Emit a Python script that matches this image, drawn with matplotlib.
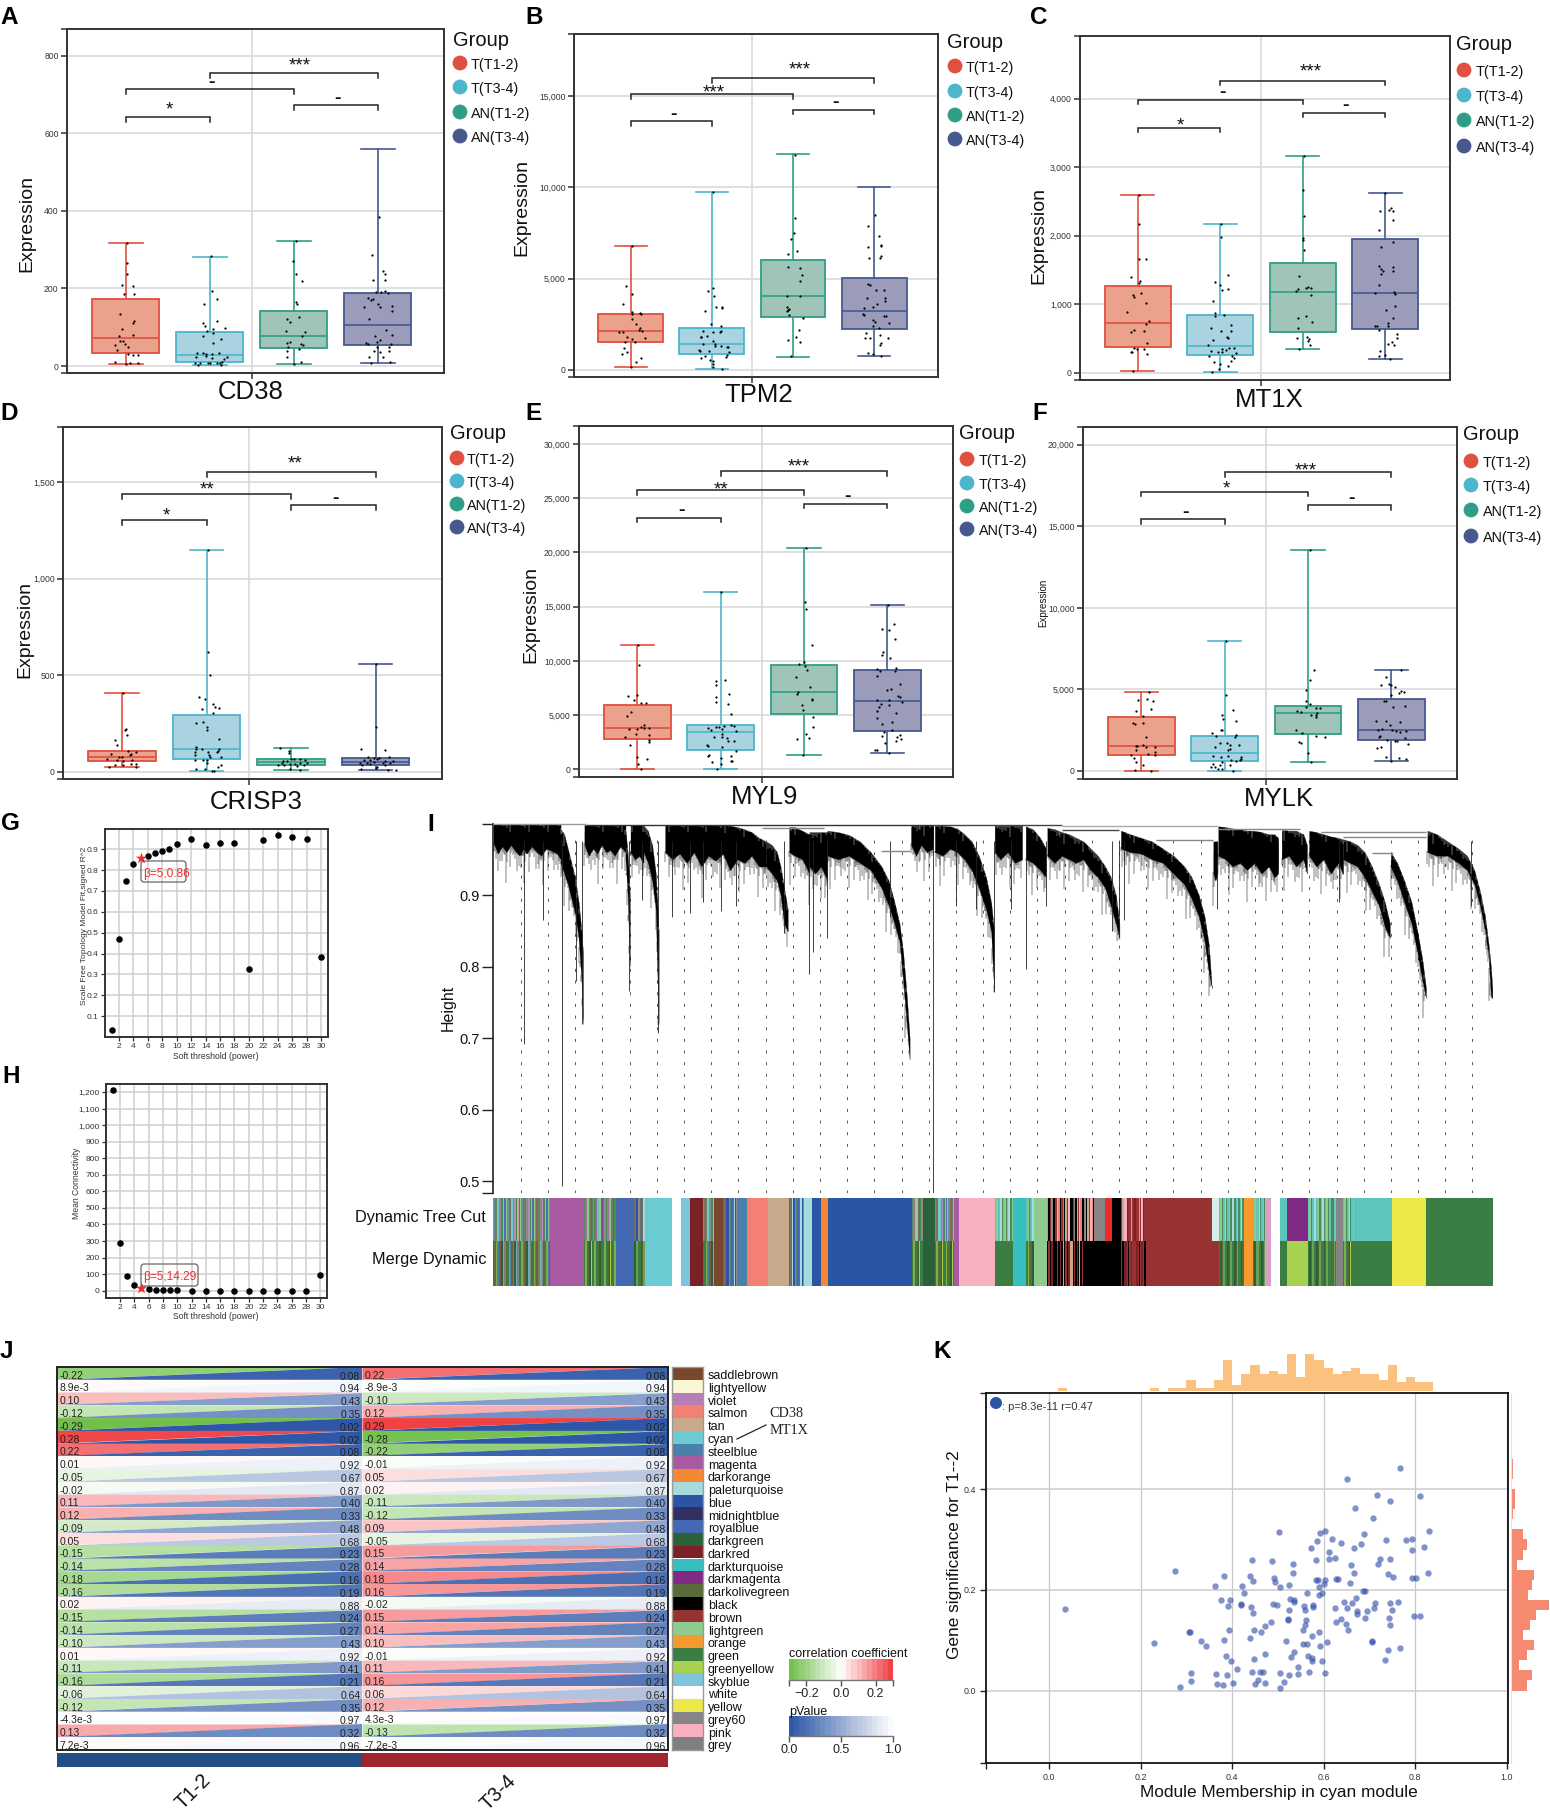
import numpy as np
import matplotlib
matplotlib.use('Agg')
import matplotlib.pyplot as plt
from matplotlib.colors import LinearSegmentedColormap, Normalize
from matplotlib.patches import Polygon, FancyBboxPatch, Circle
from matplotlib.ticker import FuncFormatter

plt.rcParams['font.family'] = ['Liberation Sans', 'DejaVu Sans']
W, H = 1550, 1810

# ---------------- box plot data (low, q1, median, q3, high) ----------------
groups = ['T(T1-2)', 'T(T3-4)', 'AN(T1-2)', 'AN(T3-4)']
A_q = [[4, 34, 71.5, 173, 316], [3, 10, 28, 88, 282], [5, 46, 77, 142, 322], [8, 53, 107, 189, 560]]
B_q = [[165, 1520, 2140, 3070, 6800], [37, 860, 1410, 2320, 9780], [710, 2900, 4060, 6010, 11850], [770, 2230, 3250, 5045, 10050]]
C_q = [[19, 379, 729, 1269, 2600], [10, 263, 389, 836, 2168], [350, 588, 1181, 1600, 3160], [204, 642, 1167, 1945, 2630]]
D_q = [[22, 54, 74, 107, 408], [3, 66, 116, 292, 1150], [9, 33, 48, 64, 121], [9, 33, 50, 69, 557]]
E_q = [[60, 2770, 3815, 5908, 11480], [30, 1755, 3450, 4060, 16310], [1290, 5110, 7110, 9630, 20400], [1510, 3570, 6340, 9170, 15140]]
F_q = [[20, 1002, 1513, 3292, 4847], [20, 593, 1104, 2168, 7955], [532, 2249, 3579, 4008, 13558], [593, 1881, 2515, 4397, 6196]]

# brackets: pairs (1-2, 1-3, 2-4, 3-4) at these values
pairs = [(1, 2), (1, 3), (2, 4), (3, 4)]
A_brk = [641, 714, 755, 673]
B_brk = [13640, 15120, 15980, 14260]
C_brk = [3578, 3986, 4259, 3797]
D_brk = [1303, 1438, 1552, 1381]
E_brk = [23200, 25720, 27480, 24490]
F_brk = [15440, 17117, 18303, 16299]
A_sig = ['*', '-', '***', '-']
B_sig = ['-', '***', '***', '-']
C_sig = ['*', '-', '***', '-']
D_sig = ['*', '**', '**', '-']
E_sig = ['-', '**', '***', '-']
F_sig = ['-', '*', '***', '-']

# jittered samples: (offset from box centre, value)
A_pts = [
 [(.01,317),(.02,266),(.01,237),(-.05,208),(.09,207),(-.02,186),(.1,185),(-.07,134),(.1,115),(.09,111),(-.04,95),(.08,81),(-.08,78),(-.07,65),(-.03,65),(-.01,56),(-.13,54),(.03,48),(-.1,41),(.03,32),(.09,28),(.15,28),(-.13,11),(0,4),(.05,7),(.15,7)],
 [(.01,283),(.02,194),(.08,174),(-.07,161),(.09,115),(-.08,112),(-.06,103),(.04,95),(.18,98),(-.03,90),(.04,84),(-.08,78),(.13,70),(.04,60),(-.15,33),(-.08,34),(-.04,32),(.03,31),(.11,33),(-.16,23),(-.04,26),(.02,21),(.2,23),(.17,18),(-.18,8),(-.12,7),(-.02,9),(0,7),(.08,9),(.12,9),(.15,11),(-.14,3),(.13,3)],
 [(.02,322),(-.01,270),(.03,236),(.1,220),(.02,165),(.04,159),(.06,126),(-.08,121),(-.05,113),(-.09,91),(.13,87),(.1,77),(-.05,61),(-.08,59),(.09,56),(.11,54),(-.07,48),(.06,43),(-.08,39),(-.08,23),(.09,11),(0,5)],
 [(.01,384),(-.07,285),(.06,245),(.09,237),(-.06,222),(.08,221),(-.02,191),(.04,191),(.09,193),(.12,189),(-.12,176),(-.06,174),(-.08,171),(0,160),(.03,152),(.17,155),(-.16,151),(.17,142),(-.11,120),(.1,93),(-.03,78),(.17,79),(.03,68),(-.01,61),(-.14,59),(-.12,57),(.16,56),(-.01,49),(.13,49),(-.05,40),(.03,36),(.13,40),(.06,24),(-.11,22),(-.08,9),(.14,11)],
]
B_pts = [
 [(.01,6800),(-.06,4620),(.02,4170),(-.1,3590),(.01,3160),(.02,3080),(.11,3110),(.12,3060),(.02,2800),(.06,2520),(.11,2310),(.1,2200),(.14,2160),(-.14,2090),(-.1,2100),(-.05,1820),(.02,1700),(.17,1750),(-.07,1520),(.05,1520),(-.08,1180),(-.05,1000),(-.11,850),(.13,660),(.07,430),(0,170)],
 [(.01,9780),(.01,4500),(-.05,4350),(.02,4050),(.05,3460),(.12,3470),(.13,3370),(-.09,3250),(-.01,2510),(.11,2400),(-.11,2120),(.11,2120),(.1,2060),(.01,2060),(-.13,1830),(-.06,1840),(-.14,1810),(.01,1600),(.04,1450),(-.11,1400),(.04,1340),(.11,1300),(.19,1280),(.2,1250),(-.16,1080),(-.15,1020),(-.04,1050),(.21,1000),(.18,830),(-.08,790),(.17,730),(-.13,640),(-.02,540),(.01,470),(.01,330),(.01,160),(.12,40)],
 [(.02,11800),(.02,8350),(.01,7520),(-.02,7160),(.05,6520),(-.06,6330),(-.06,5640),(.09,5570),(.11,5220),(.09,4890),(-.08,4080),(.09,4060),(-.07,3470),(-.08,3250),(-.05,3350),(-.06,3300),(-.05,3000),(.12,2850),(.07,2180),(.04,1800),(-.06,1630),(.09,1530),(-.02,740)],
 [(.01,8470),(-.07,7900),(.06,7340),(-.07,6740),(.08,6830),(.09,6780),(-.06,6140),(.07,6130),(.08,6220),(-.07,4710),(-.05,4650),(.02,4400),(.12,4380),(-.09,3960),(.13,3940),(.13,3760),(.03,3590),(-.01,3440),(-.12,3390),(-.14,3060),(-.13,3030),(.12,2980),(.14,2950),(-.02,2740),(.01,2640),(.18,2550),(-.01,2390),(.06,2300),(-.1,2040),(.07,1920),(-.11,1780),(-.05,1780),(.17,1730),(.09,1480),(.07,1360),(-.07,920),(-.02,900),(.08,790)],
]
C_pts = [
 [(.01,2600),(.01,2173),(.01,1658),(.1,1658),(-.08,1395),(.03,1337),(.02,1303),(.04,1162),(-.06,1133),(-.04,1104),(.1,1021),(-.13,885),(.14,749),(.1,705),(-.05,617),(-.08,593),(.08,613),(.11,438),(-.04,360),(-.01,350),(.08,345),(-.08,306),(-.07,297),(.11,277),(-.06,19)],
 [(.01,2168),(.01,1983),(.09,1429),(-.06,1327),(0,1283),(.09,1225),(.02,1210),(-.09,1045),(-.06,875),(-.06,826),(.05,841),(.13,700),(-.11,647),(.01,608),(.13,608),(.08,525),(.1,506),(-.09,472),(-.15,408),(.17,365),(.11,355),(.02,345),(.07,326),(-.11,316),(-.03,301),(.02,301),(.19,292),(.14,248),(-.13,243),(.17,209),(.13,170),(-.08,151),(0,126),(.1,92),(-.01,58),(-.1,10)],
 [(.02,3160),(.01,2664),(.02,2280),(.01,1969),(.01,1935),(.02,1794),(-.05,1405),(.06,1249),(.04,1240),(.1,1240),(-.06,1220),(-.08,1186),(.1,1133),(.04,826),(-.06,797),(.11,734),(-.06,651),(-.07,506),(.05,520),(.08,491),(.07,462),(.09,399),(-.05,350)],
 [(0,2630),(.07,2411),(.05,2372),(.09,2363),(-.06,2358),(.09,2227),(-.08,2081),(.1,1906),(-.05,1833),(-.08,1551),(.09,1536),(-.05,1512),(-.02,1488),(.09,1488),(-.05,1434),(-.07,1283),(-.12,1162),(.11,1172),(.12,1142),(.12,972),(.01,914),(.1,792),(.04,720),(.03,681),(-.12,681),(-.1,681),(-.07,627),(.15,569),(.14,510),(.08,442),(.04,413),(.11,399),(-.06,316),(0,258),(-.07,248),(.06,204)],
]
D_pts = [
 [(.01,407),(.04,223),(.03,218),(.06,189),(-.09,163),(-.06,138),(.07,107),(.17,100),(-.13,90),(.1,90),(.09,85),(-.04,76),(0,76),(-.18,64),(-.06,61),(.12,62),(.01,55),(-.08,36),(.01,35),(.1,40),(.17,40),(-.15,26),(.17,22)],
 [(.02,1149),(.02,623),(.04,502),(-.09,388),(-.02,375),(.07,349),(.1,334),(.15,330),(-.06,324),(.08,303),(-.13,254),(-.04,260),(0,230),(.01,216),(.15,170),(-.13,128),(-.12,116),(-.06,119),(.15,116),(.13,107),(.02,104),(-.14,102),(.12,102),(.03,87),(-.14,85),(.04,78),(.17,74),(-.14,61),(-.04,62),(0,59),(.01,47),(.17,35),(.13,24),(-.02,14),(-.13,12),(.06,3),(.09,3)],
 [(-.13,121),(-.02,107),(-.02,99),(0,66),(.04,66),(.11,64),(.17,61),(-.09,57),(-.05,54),(-.11,45),(.11,43),(.05,42),(.19,43),(-.15,36),(-.08,35),(-.01,38),(.15,33),(.07,28),(-.01,14),(.11,7)],
 [(.01,557),(0,234),(-.17,119),(.11,112),(-.09,76),(-.02,71),(.04,71),(.16,74),(-.14,61),(-.06,62),(.02,64),(.11,57),(.21,57),(-.18,43),(-.1,47),(-.02,48),(.09,43),(.17,43),(-.16,33),(-.06,40),(.11,33),(.02,26),(.01,17),(-.17,14),(.15,10),(.24,7)],
]
E_pts = [
 [(.01,11450),(.02,9600),(0,6860),(-.11,6800),(-.04,6430),(.04,6120),(.1,6120),(-.08,5290),(-.13,4890),(.08,4090),(.04,3880),(.08,3820),(.14,3820),(-.1,3750),(-.01,3690),(-.02,3260),(.14,3140),(-.15,2950),(.14,2680),(.14,2520),(-.09,2280),(-.01,1140),(.12,985),(.01,520),(.04,30)],
 [(0,16310),(-.06,8120),(.05,8220),(-.06,7780),(.1,6980),(-.06,6680),(-.06,6180),(.09,6000),(.12,5110),(.04,4030),(.12,4090),(-.06,3900),(-.02,3900),(.16,3970),(-.15,3780),(-.12,3660),(.02,3720),(.18,3510),(.02,3290),(-.08,2950),(.01,2950),(.07,2920),(.09,2650),(.16,2580),(-.16,2280),(-.15,2120),(.01,2030),(.18,1690),(-.14,1290),(-.15,1230),(.12,1200),(0,1080),(.12,770),(.13,770),(-.1,650),(0,520),(-.04,30)],
 [(.02,20400),(.01,15450),(.02,14740),(.09,11420),(0,9880),(-.06,9750),(.01,9510),(.04,9200),(-.1,8490),(.07,7630),(-.07,7110),(-.09,6950),(.1,6490),(.09,6430),(-.02,5970),(-.01,5480),(.11,4800),(.11,3880),(.02,3260),(-.08,2800),(.06,2890),(-.01,1290)],
 [(.01,15140),(.08,13420),(-.07,12980),(.02,12830),(.09,12000),(-.05,10800),(-.07,10580),(.03,10310),(.1,9320),(-.12,9260),(-.09,9080),(.09,9110),(-.12,8580),(.15,7850),(.04,7420),(-.01,7350),(.13,6770),(.15,6650),(-.12,6430),(.02,6430),(.18,6220),(-.08,6000),(.02,5940),(-.1,5780),(-.13,5420),(.1,5230),(-.12,4740),(.06,4370),(-.07,4150),(.06,3630),(-.04,3480),(-.06,3110),(.15,3200),(.11,3020),(.16,2800),(.1,2620),(-.03,2400),(-.15,1780),(-.12,1780),(.02,1510)],
]
F_pts = [
 [(.09,4830),(.07,4420),(.14,4290),(-.04,4340),(.12,3820),(-.06,3700),(.02,3370),(-.1,2940),(-.08,2900),(.02,2940),(.06,2070),(.02,1570),(-.06,1510),(-.05,1510),(.06,1470),(.16,1450),(-.06,1270),(.16,1170),(.08,1060),(.16,1000),(-.13,960),(-.09,820),(-.07,550),(.02,350),(-.08,40),(.11,0)],
 [(.02,7955),(.02,4680),(.1,3760),(-.03,3410),(-.02,3210),(.13,3050),(-.05,2520),(-.03,2520),(-.15,2310),(.14,2190),(-.1,2130),(.12,2090),(-.06,1720),(.03,1720),(.17,1620),(.06,1620),(-.12,1450),(.06,1350),(.04,1270),(-.14,920),(.04,920),(-.05,840),(.2,840),(.19,760),(.08,670),(.18,650),(.13,590),(-.03,570),(-.14,410),(-.06,350),(.06,390),(-.16,250),(-.12,250),(-.08,100),(-.03,100),(.1,0)],
 [(.02,13558),(.07,6200),(.02,5580),(-.02,4990),(-.02,4270),(.02,4090),(-.03,3930),(.09,3840),(.14,3840),(-.13,3700),(-.08,3600),(.11,3580),(.03,3410),(.1,3440),(.1,3290),(-.14,2520),(-.07,2330),(.09,2170),(.2,2090),(-.11,1800),(-.08,1720),(0,1100),(.03,530)],
 [(.11,6200),(-.06,5770),(-.12,5240),(-.03,5320),(0,5300),(.04,5150),(.11,4930),(.15,4850),(.09,4760),(0,4660),(-.09,4270),(-.06,4290),(.16,3970),(.02,3930),(-.19,3090),(-.07,3070),(.1,3030),(-.02,2840),(-.16,2540),(-.11,2560),(.01,2490),(.05,2450),(.1,2410),(.17,2450),(-.14,2170),(-.15,2090),(.16,2000),(-.05,1900),(.04,1820),(.07,1840),(.2,1660),(-.12,1470),(-.17,1410),(-.06,840),(.09,820),(.17,720),(-.01,590)],
]

# ---------------- soft threshold ----------------
power = [1,2,3,4,5,6,7,8,9,10,12,14,16,18,20,22,24,26,28,30]
fit_r2 = [.033,.468,.75,.83,.86,.866,.88,.892,.902,.926,.95,.92,.93,.932,.325,.943,.967,.957,.95,.385]
connectivity = [1210,290,90,33,14.29,8,5,3,2,1.5,1,.8,.5,.4,.3,.3,.2,.2,.2,95]

# ---------------- dendrogram: (leaf positions, upper edge, lower edge) ----------------
dendro_branches = [
 ([102,108,114,120,126,132,138,143,148,155,162,168,175,182,190,195],[.9992]*16,[.972,.958,.968,.960,.970,.962,.955,.964,.958,.968,.960,.955,.965,.962,.958,.950]),
 ([195,200,205,210,215,220,224,226],[.992,.985,.965,.945,.925,.89,.85,.82],[.945,.93,.915,.895,.875,.84,.78,.72]),
 ([228,234,240,246,252,258,264,270,278,285],[.998]*10,[.97,.955,.965,.958,.97,.96,.963,.955,.968,.96]),
 ([285,288,291],[.99,.96,.90],[.95,.90,.80]),
 ([292,298,304,310],[.998]*4,[.96,.95,.955,.945]),
 ([310,316,322,327,331],[.997,.99,.97,.93,.85],[.96,.945,.92,.88,.72]),
 ([340,350,360,370,380,390,400,410,420,430,440,450,460,470,480],[.998,.998,.998,.998,.998,.998,.998,.998,.998,.997,.995,.992,.988,.98,.975],[.96,.95,.958,.945,.96,.94,.955,.948,.958,.935,.95,.945,.955,.94,.94]),
 ([480,488,495,500,505,510],[.975,.97,.96,.94,.91,.88],[.94,.93,.92,.90,.86,.85]),
 ([512,520,530,540],[.995,.995,.99,.985],[.96,.955,.95,.93]),
 ([540,548,556,565],[.988]*4,[.94,.93,.94,.92]),
 ([565,580,595,610,625,640,650,658,665,670,675,679],[.99,.988,.984,.975,.96,.94,.92,.89,.86,.82,.76,.70],[.955,.95,.955,.945,.935,.91,.885,.86,.835,.78,.72,.67]),
 ([681,688,695,703,712],[.998]*5,[.97,.955,.97,.96,.965]),
 ([714,725,735,745,755,765,775,785,792,796],[.998,.997,.996,.993,.985,.975,.955,.925,.89,.85],[.96,.955,.965,.96,.95,.935,.91,.88,.85,.77]),
 ([797,805,815,825,835],[.997]*5,[.96,.95,.96,.945,.95]),
 ([840,850,860,868],[.996,.992,.98,.965],[.95,.945,.935,.925]),
 ([870,880,890,900,910,920,930,940,950,958,965,970],[.994,.992,.988,.985,.98,.975,.965,.955,.94,.925,.90,.86],[.955,.945,.955,.95,.945,.95,.935,.925,.91,.885,.86,.84]),
 ([972,985,1000,1015,1030,1045,1060,1070,1080,1088,1094,1098],[.99,.985,.98,.975,.965,.955,.94,.925,.90,.87,.83,.77],[.965,.96,.958,.95,.945,.93,.915,.895,.87,.835,.79,.772]),
 ([1100,1103,1106],[.975,.975,.975],[.93,.92,.93]),
 ([1107,1117,1127,1137,1147,1157,1167,1177,1185,1190],[.996,.995,.993,.992,.99,.99,.988,.985,.985,.98],[.955,.95,.94,.945,.935,.945,.93,.94,.925,.93]),
 ([1195,1205,1215,1225,1230],[.991,.99,.99,.985,.97],[.95,.955,.94,.95,.93]),
 ([1233,1243,1253,1263,1273,1280],[.99,.988,.985,.982,.98,.978],[.955,.94,.95,.93,.945,.93]),
 ([1280,1290,1300,1310,1320,1330,1338,1345],[.978,.975,.97,.96,.94,.915,.89,.86],[.95,.945,.94,.925,.905,.885,.855,.84]),
 ([1346,1355,1365,1375,1383,1390,1395],[.96,.945,.92,.89,.85,.81,.77],[.94,.92,.89,.86,.82,.78,.756]),
 ([1397,1410,1425,1440,1452,1462,1470,1477,1482,1485,1487],[.99,.985,.975,.965,.955,.935,.905,.87,.83,.80,.77],[.96,.955,.955,.945,.935,.915,.885,.85,.81,.76,.756]),
]
hair_lengths = [.004,.012,.002,.020,.007,.001,.030,.009,.003,.016,.006,.045,.002,.011,.005,.025,.001,.008,.014,.003]
spike_x = [144,197,170,217,225,290,308,330,349,374,392,417,438,505,540,545,565,652,712,743,771,796,820,840,868,960,970,977,1105,1190,1275,1458]
spike_low = [.692,.4935,.865,.78,.72,.766,.893,.708,.87,.875,.89,.878,.885,.847,.79,.82,.84,.87,.484,.885,.88,.765,.88,.797,.885,.85,.842,.865,.88,.935,.89,.885]
merge_lines = [(102,230,.9992,'#999999'),(230,712,.998,'#333333'),(712,890,.9975,'#444444'),(890,1107,.9965,'#aaaaaa'),(890,970,.991,'#444444'),
               (1107,1220,.9925,'#888888'),(1250,1395,.9885,'#888888'),(1280,1395,.981,'#888888'),(1020,1100,.9775,'#888888'),
               (640,680,.962,'#888888'),(1320,1350,.959,'#888888'),(475,560,.993,'#888888')]

# ---------------- module colours ----------------
modules = ['saddlebrown','lightyellow','violet','salmon','tan','cyan','steelblue','magenta','darkorange','paleturquoise','blue','midnightblue','royalblue','darkgreen','darkred','darkturquoise','darkmagenta','darkolivegreen','black','brown','lightgreen','orange','green','greenyellow','skyblue','white','yellow','grey60','pink','grey']
module_colors = ['#7B472C','#F8F6D3','#B77DB8','#F47F73','#C9A98B','#6BCBD3','#4A80A9','#A85AA3','#F58634','#A6DADB','#2A55A5','#322F62','#4269B2','#2B6138','#7C2027','#37BFBF','#802A84','#5A6B3A','#000000','#963232','#8FCB8F','#F79A2E','#3A7E43','#A8D14F','#7EC4DC','#FFFFFF','#EDE849','#858585','#F7B1C1','#7F7F7F']
mc = dict(zip(modules, module_colors))
mix_a = ['#6C8FA8','#8A6A52','#6F7F5A','#6BCBD3','#8A8A8A','#B08DB5','#4F8A5A','#C9A98B','#4A70AE','#8FCB8F']
mix_b = ['#4F8A5A','#A070A0','#5DC5B9','#8FCB8F','#6F7F5A','#8A4A90','#4F8A5A','#8A8A8A']
mix_c = ['#4269B2','#7B6A60','#A6DADB','#2A55A5','#8A8A8A','#5A7A7A']
mix_d = ['#F47F73','#000000','#963232','#8A8A8A','#000000','#C9A98B','#963232','#F7B1C1']
mix_e = ['#963232','#C9A98B','#963232','#F7B1C1','#7C2027','#963232']
mix_f = ['#5DC5B9','#8FCB8F','#4F8A5A','#5DC5B9','#A6DADB','#4F8A5A']
mix_g = ['#5A6B3A','#3A7E43','#7FA84F','#4A80A9','#7B5A3C','#6A8A4A','#2B6138','#6BB0B8','#7F7F7F']
mix_h = ['#3A7E43','#7FB04F','#3A7E43','#5A6B3A','#2B6138','#A8D14F','#3A7E43']
mix_i = ['#000000','#963232','#000000','#7C2027','#000000','#C9A98B']
mix_j = ['#3A7E43','#2B6138','#5A6B3A','#6FA04F','#3A7E43']
mix_k = ['#963232','#000000','#963232','#7C2027']
tree_cut = [(102,180,mix_a),(180,227,'magenta'),(227,272,mix_b),(272,295,'royalblue'),(295,312,mix_c),(312,350,'cyan'),(350,362,'white'),
 (362,375,'skyblue'),(375,393,'darkred'),(393,408,mix_a),(408,420,'saddlebrown'),(420,440,mix_c),(440,453,'steelblue'),(453,482,'salmon'),(482,512,'tan'),
 (512,533,mix_c),(533,543,'paleturquoise'),(543,556,'blue'),(556,566,'darkorange'),(566,682,'blue'),(682,697,mix_b),(697,714,'darkgreen'),(714,740,mix_a),(740,748,'magenta'),
 (748,797,'pink'),(797,823,mix_f),(823,841,'darkturquoise'),(841,852,mix_f),(852,870,'lightgreen'),(870,935,mix_d),(935,950,'grey60'),(950,960,'#EE2A2A'),(960,972,'black'),(972,1012,mix_e),(1012,1098,'brown'),
 (1098,1108,'#D5EEEC'),(1108,1143,mix_f),(1143,1155,'orange'),(1155,1172,mix_f),(1172,1180,'#D8A0C8'),(1180,1193,'white'),
 (1193,1203,'#5DC5B9'),(1203,1232,'darkmagenta'),(1232,1270,mix_f),(1270,1280,'grey60'),(1280,1295,mix_f),(1295,1348,'#5DC5B9'),(1348,1395,'yellow'),(1395,1488,'green')]
merge_dyn = [(102,180,mix_g),(180,227,'magenta'),(227,272,mix_h),(272,295,'royalblue'),(295,312,mix_j),(312,350,'cyan'),(350,362,'white'),
 (362,375,'skyblue'),(375,393,'darkred'),(393,408,mix_g),(408,420,'saddlebrown'),(420,440,mix_c),(440,453,'steelblue'),(453,482,'salmon'),(482,512,'tan'),
 (512,533,mix_c),(533,543,'paleturquoise'),(543,556,'blue'),(556,566,'darkorange'),(566,682,'blue'),(682,697,mix_h),(697,714,'darkgreen'),(714,740,mix_h),(740,748,'magenta'),
 (748,797,'pink'),(797,823,'green'),(823,841,'darkturquoise'),(841,852,mix_h),(852,870,'lightgreen'),(870,920,mix_i),(920,972,'black'),(972,1012,mix_k),(1012,1108,'brown'),
 (1108,1143,mix_j),(1143,1155,'orange'),(1155,1172,mix_j),(1172,1180,'#D8A0C8'),(1180,1193,'white'),
 (1193,1203,'green'),(1203,1232,'greenyellow'),(1232,1270,mix_j),(1270,1280,'grey60'),(1280,1295,mix_h),(1295,1348,'green'),(1348,1395,'yellow'),(1395,1488,'green')]

# ---------------- module-trait table ----------------
corr_t12 = ['-0.22','8.9e-3','0.10','-0.12','-0.29','0.28','0.22','0.01','-0.05','-0.02','0.11','0.12','-0.09','0.05','-0.15','-0.14','-0.18','-0.16','0.02','-0.15','-0.14','-0.10','0.01','-0.11','-0.16','-0.06','-0.12','-4.3e-3','0.13','7.2e-3']
corr_t34 = ['0.22','-8.9e-3','-0.10','0.12','0.29','-0.28','-0.22','-0.01','0.05','0.02','-0.11','-0.12','0.09','-0.05','0.15','0.14','0.18','0.16','-0.02','0.15','0.14','0.10','-0.01','0.11','0.16','0.06','0.12','4.3e-3','-0.13','-7.2e-3']
pval = ['0.08','0.94','0.43','0.35','0.02','0.02','0.08','0.92','0.67','0.87','0.40','0.33','0.48','0.68','0.23','0.28','0.16','0.19','0.88','0.24','0.27','0.43','0.92','0.41','0.21','0.64','0.35','0.97','0.32','0.96']

# ---------------- module membership scatter ----------------
mm = [.034,.229,.276,.285,.305,.308,.310,.311,.331,.343,.362,.365,.367,.376,.380,.382,.383,.387,.389,.392,.393,.396,.398,.402,.411,.419,.420,.421,.425,.438,.438,.442,.443,.443,.445,.446,.447,.448,.451,.457,.464,.462,.467,.471,.471,.472,.485,.487,.490,.492,.494,.497,.503,.504,.504,.505,.514,.517,.523,.523,.524,.525,.525,.527,.529,.532,.532,.535,.536,.536,.543,.545,.554,.555,.558,.560,.560,.561,.564,.564,.565,.569,.573,.574,.575,.575,.576,.576,.584,.584,.586,.587,.589,.590,.590,.592,.592,.596,.597,.600,.604,.604,.604,.608,.611,.612,.618,.624,.624,.627,.628,.631,.637,.639,.644,.649,.651,.652,.654,.658,.660,.661,.666,.667,.668,.671,.674,.674,.681,.687,.689,.690,.690,.694,.706,.706,.709,.711,.712,.716,.719,.724,.735,.736,.740,.741,.743,.744,.744,.746,.746,.750,.751,.762,.766,.768,.780,.794,.794,.794,.798,.801,.810,.811,.820,.828,.830]
gs = [.162,.095,.237,.007,.116,.116,.034,.019,.098,.089,.208,.033,.013,.179,.011,.100,.227,.069,.030,.167,.120,.179,.058,.015,.042,.172,.169,.207,.194,.228,.104,.165,.260,.036,.153,.217,.062,.121,.013,.021,.117,.037,.037,.129,.073,.015,.137,.258,.171,.223,.216,.169,.315,.206,.035,.004,.017,.099,.143,.141,.210,.160,.030,.181,.067,.252,.234,.175,.180,.076,.046,.033,.120,.093,.168,.159,.130,.140,.194,.092,.069,.036,.284,.058,.065,.109,.165,.169,.260,.219,.297,.219,.189,.206,.116,.312,.089,.194,.059,.211,.219,.316,.035,.097,.262,.276,.301,.263,.163,.137,.221,.221,.143,.293,.176,.132,.420,.163,.120,.213,.250,.174,.233,.284,.362,.184,.158,.151,.292,.198,.310,.198,.144,.157,.098,.096,.343,.164,.174,.389,.251,.262,.061,.299,.231,.080,.145,.377,.261,.173,.130,.160,.226,.175,.085,.442,.299,.223,.300,.280,.148,.223,.386,.148,.286,.234,.317]
mm_bins = [.02,.22,.26,.28,.30,.32,.34,.36,.38,.40,.42,.44,.46,.48,.50,.52,.54,.56,.58,.60,.62,.64,.66,.68,.70,.72,.74,.76,.78,.80,.82]
mm_counts = [1,1,1,1,4,1,1,4,11,2,6,9,6,7,6,13,5,13,11,8,6,7,8,6,6,4,9,3,5,3,3]
gs_bins = [0,.02,.04,.06,.08,.10,.12,.14,.16,.18,.20,.22,.24,.26,.28,.30,.34,.36,.38,.42,.44]
gs_counts = [8,11,4,8,12,6,10,13,20,9,11,12,3,6,8,6,1,2,2,1,1]

# =============================================================================
fig = plt.figure(figsize=(W/100, H/100), dpi=100)
fig.patch.set_facecolor('white')

def axpx(l, t, r, b, **kw):
    return fig.add_axes([l/W, 1-b/H, (r-l)/W, (b-t)/H], **kw)

ov = axpx(0, 0, W, H, zorder=20)
ov.set_xlim(0, W); ov.set_ylim(H, 0); ov.axis('off'); ov.patch.set_alpha(0)

def T(x, y, s, size, ha='left', va='center', **kw):
    kw.setdefault('color', '#111111')
    if va == 'center':
        if kw.get('rotation') == 90:
            x += 1.5
        elif kw.get('rotation') is None:
            y += 1.5
    return ov.text(x, y, s, fontsize=size, ha=ha, va=va, **kw)

for s, x, y in [('A',0,24),('B',525,24),('C',1030,24),('D',0,420),('E',525,420),('F',1032,420),
                ('G',1,830),('H',2,1083),('I',427,831),('J',0,1358),('K',933,1358)]:
    T(x, y, s, 17.5, va='baseline', fontweight='bold', color='black')

edge_cols = ['#E0503F', '#4DB5CC', '#2F9E87', '#46598F']
fill_cols = ['#EBA28C', '#A9D3E0', '#9FC5B8', '#9B9CBA']
GRID = '#d9d9d9'

def box_panel(rect, xlim, ylim, yticks, q, pts, brk, sig, offs, title, tpos, ylab, leg):
    ax = axpx(*rect)
    ax.set_xlim(*xlim); ax.set_ylim(*ylim)
    ax.set_yticks(yticks)
    ax.yaxis.set_major_formatter(FuncFormatter(lambda v, p: f'{int(v):,}'))
    ax.set_yticks(list(ylim), minor=True)
    ax.set_xticks([2.5]); ax.set_xticklabels([''])
    ax.tick_params(axis='both', which='both', length=4.5, width=1.1, color='#333333', labelsize=6.2, labelcolor='#333333', pad=1.5)
    ax.grid(True, which='major', color=GRID, lw=1.2)
    ax.set_axisbelow(True)
    for sp in ax.spines.values():
        sp.set_color('#333333'); sp.set_linewidth(1.4)
    for i in range(4):
        lo, q1, med, q3, hi = q[i]
        stats = [dict(med=med, q1=q1, q3=q3, whislo=lo, whishi=hi, fliers=[])]
        c = edge_cols[i]
        ax.bxp(stats, positions=[i+1], widths=.8, capwidths=.4, patch_artist=True, showfliers=False, manage_ticks=False,
               boxprops=dict(facecolor=fill_cols[i], edgecolor=c, lw=1.3),
               medianprops=dict(color=c, lw=1.2), whiskerprops=dict(color=c, lw=1.2), capprops=dict(color=c, lw=1.2))
        ax.scatter([i+1+p[0] for p in pts[i]], [p[1] for p in pts[i]], s=2.6, color='black', linewidths=0, zorder=5)
    h_px = rect[3]-rect[1]
    d = 4.5*(ylim[1]-ylim[0])/h_px
    for (a, b), y, s, (dx, off) in zip(pairs, brk, sig, offs):
        ax.plot([a, a, b, b], [y-d, y, y, y-d], color='#222222', lw=1.1, zorder=6, solid_joinstyle='miter')
        star = '*' in s
        ax.annotate(s, xy=((a+b)/2, y), xytext=(dx*.72, (off-(4.5 if star else 0))*.72), textcoords='offset points',
                    ha='center', va='center', fontsize=13.5 if star else 14, fontweight='normal' if star else 'bold', color='#111111')
    T(tpos[0], tpos[1], title, 18.5, ha='center')
    T(ylab[0], ylab[1], 'Expression', ylab[2], ha='center', rotation=90)
    gx, gy, cx, tx, ys = leg
    T(gx, gy, 'Group', 14.5)
    for i, y in enumerate(ys):
        ov.add_patch(Circle((cx, y), 7.4, color=edge_cols[i], lw=0))
        T(tx, y+.5, groups[i], 10.4)
    return ax

XL = (.3, 4.787)
box_panel((67,29,444,373), XL, (-18,869), [0,200,400,600,800], A_q, A_pts, A_brk, A_sig, [(2,12),(1.5,7),(6,12),(2,7)], 'CD38', (251,390), (25,224,14), (453,39,460,471,[63,87,112,136]))
box_panel((574,34,938,377), XL, (-384,18410), [0,5000,10000,15000], B_q, B_pts, B_brk, B_sig, [(2,7),(2,6),(7,13),(2,7)], 'TPM2', (759,393), (520,208,14), (947,41,955,966,[66,91,115,139]))
box_panel((1080,36,1450,380), XL, (-107,4915), [0,1000,2000,3000,4000], C_q, C_pts, C_brk, C_sig, [(1,6),(2,7),(8,13),(2,7)], 'MT1X', (1269,398), (1037,235,14), (1456,43,1464,1476,[70,95,120,146]))
box_panel((63,427,442,779), XL, (-38,1787), [0,500,1000,1500], D_q, D_pts, D_brk, D_sig, [(2,9),(0,9),(4,13),(2,7)], 'CRISP3', (256,800), (23,629,14), (450,432,457,467,[458,481,504,527]))
box_panel((579,426,953,777), XL, (-708,31660), [0,5000,10000,15000,20000,25000,30000], E_q, E_pts, E_brk, E_sig, [(2,7),(0,5),(-5,9),(2,7)], 'MYL9', (765,795), (529,614,14), (959,432,967,979,[459,483,506,529]))
box_panel((1083,427,1457,779), XL, (-491,21084), [0,5000,10000,15000,20000], F_q, F_pts, F_brk, F_sig, [(2,7),(2,7),(-2,6),(2,7)], 'MYLK', (1279,797), (1042,603,7), (1463,433,1471,1483,[461,485,510,536]))

# ---------- G / H ----------
def thresh(rect, xlim, ylim, yticks, ydata, fmt, xlab, ylab):
    ax = axpx(*rect)
    ax.set_xlim(*xlim); ax.set_ylim(*ylim)
    ax.set_xticks(range(2, 31, 2)); ax.set_yticks(yticks)
    ax.yaxis.set_major_formatter(FuncFormatter(fmt))
    ax.tick_params(length=3, width=.9, labelsize=6, color='#333333', labelcolor='#333333', pad=1.5)
    ax.grid(True, color='#cfcfcf', lw=1.1); ax.set_axisbelow(True)
    for sp in ax.spines.values():
        sp.set_color('#333333'); sp.set_linewidth(1.4)
    other = [i for i, p in enumerate(power) if p != 5]
    ax.scatter([power[i] for i in other], [ydata[i] for i in other], s=22, color='black', linewidths=0, zorder=4)
    star = power.index(5)
    ax.scatter([5], [ydata[star]], s=75, marker='*', color='#EE2E2E', linewidths=0, zorder=5)
    T(xlab[0], xlab[1], 'Soft threshold (power)', 6.2, ha='center', color='#333333')
    T(ylab[0], ylab[1], ylab[3], ylab[2], ha='center', rotation=90, color='#333333')

thresh((105,829,328,1037), (.06,30.97), (0,.997), [round(.1*i,1) for i in range(1,10)], fit_r2, lambda v,p: f'{v:.1f}', (216,1055), (83,926,6.0,'Scale Free Topology Model Fit,signed R^2'))
thresh((106,1084,327,1298), (.04,30.93), (-44,1248), list(range(0,1201,100)), connectivity, lambda v,p: f'{int(v):,}', (216,1315), (75,1183,6.2,'Mean Connectivity'))
for (x0,y0,x1,y1,s,tx,ty) in [(141,861,186,882,'β=5,0.86',143,872),(141,1264,198,1286,'β=5,14.29',143,1275)]:
    ov.add_patch(FancyBboxPatch((x0+2,y0+2), x1-x0-4, y1-y0-4, boxstyle='round,pad=2,rounding_size=3', fc='none', ec='#555555', lw=.8))
    T(tx, ty, s, 8.6, color='#EE2E2E')

# ---------- I dendrogram ----------
ax = axpx(493.5, 824, 1493, 1192.7)
ax.set_xlim(102, 1488); ax.set_ylim(.4843, .9992)
ax.patch.set_alpha(0)
for s in ['top','right','bottom']:
    ax.spines[s].set_visible(False)
ax.spines['left'].set_color('#222222'); ax.spines['left'].set_linewidth(1.2)
ax.set_xticks([])
ax.set_yticks([.5,.6,.7,.8,.9]); ax.set_yticks([.4843,.9992], minor=True)
ax.tick_params(axis='y', which='both', length=8, width=1, color='#222222', labelsize=10.5, labelcolor='#111111', pad=2)
ax.vlines(np.arange(140, 1470, 37.7), .4843, .985, color='#555555', lw=.7, linestyles=(0,(3,9)), zorder=1)
k = 0
for xs, tops, lows in dendro_branches:
    ax.fill_between(xs, lows, tops, color='black', lw=.2, zorder=3)
    hx = np.arange(xs[0], xs[-1], 1.3)
    hlow = np.interp(hx, xs, lows)
    htop = np.interp(hx, xs, tops)
    hl = np.array([hair_lengths[(k+j*7) % len(hair_lengths)] for j in range(len(hx))])
    ax.vlines(hx, hlow-hl, hlow+.002, color='black', lw=.35, zorder=3)
    # fine white combing at the upper edge so the band is not a flat block
    ax.vlines(hx[::2], htop[::2]-hl[::2]*.35, htop[::2]+.001, color='white', lw=.3, zorder=3.5)
    k += 3
ax.vlines(spike_x, spike_low, [.975]*len(spike_x), color='#222222', lw=.6, zorder=3)
for x0, x1, h, c in merge_lines:
    ax.hlines(h, x0, x1, color=c, lw=1, zorder=4, clip_on=False)
T(447, 1008, 'Height', 11.5, ha='center', rotation=90)
T(486, 1216, 'Dynamic Tree Cut', 11.7, ha='right')
T(486, 1258, 'Merge Dynamic', 11.7, ha='right')

stripe_w = [1.5, 2.5, 1, 3, 2, 1, 2.5]
def strip(rect, segs):
    a = axpx(*rect)
    a.set_xlim(102, 1488); a.set_ylim(0, 1); a.axis('off')
    lefts, widths, cols = [], [], []
    for s0, s1, c in segs:
        if isinstance(c, list):
            x, k = s0, 0
            while x < s1:
                w = min(stripe_w[k % len(stripe_w)], s1-x)
                lefts.append(x); widths.append(w); cols.append(c[k % len(c)])
                x += w; k += 1
        else:
            lefts.append(s0); widths.append(s1-s0); cols.append(mc.get(c, c))
    a.bar(lefts, [1]*len(lefts), widths, bottom=0, align='edge', color=cols, lw=0)
strip((493.5,1198,1493,1241), tree_cut)
strip((493.5,1241,1493,1286), merge_dyn)

# ---------- J table ----------
corr_cmap = LinearSegmentedColormap.from_list('corr', ['#6CBE45','#FFFFFF','#EF3B3F'])
p_cmap = LinearSegmentedColormap.from_list('pv', ['#2A55A5','#FFFFFF'])
cn = Normalize(-.3, .3); pn = Normalize(0, 1)
ax = axpx(57, 1367, 668, 1750)
ax.set_xlim(0, 2); ax.set_ylim(30, 0); ax.set_xticks([]); ax.set_yticks([])
for sp in ax.spines.values():
    sp.set_color('#222222'); sp.set_linewidth(1.4)
ax.set_zorder(3)
for col, corr in enumerate([corr_t12, corr_t34]):
    for r, (cs, ps) in enumerate(zip(corr, pval)):
        ax.add_patch(Polygon([(col, r), (col, r+1), (col+1, r)], closed=True, fc=corr_cmap(cn(float(cs))), ec='none'))
        ax.add_patch(Polygon([(col, r+1), (col+1, r+1), (col+1, r)], closed=True, fc=p_cmap(pn(float(ps))), ec='none'))
        ax.text(col+.007, r+.68, cs, fontsize=7.5, ha='left', va='center', color='#222222', zorder=5)
        ax.text(col+.993, r+.76, ps, fontsize=7.5, ha='right', va='center', color='#222222', zorder=5)
a = axpx(57, 1753, 668, 1767)
a.set_xlim(0, 2); a.set_ylim(0, 1); a.axis('off')
a.bar([0, 1], [1, 1], [1, 1], align='edge', color=['#234F87', '#A02530'], lw=0)
T(193, 1792, 'T1-2', 14.5, ha='center', rotation=45)
T(498, 1792, 'T3-4', 14.5, ha='center', rotation=45)

a = axpx(672, 1367, 703, 1750)
a.set_xlim(0, 1); a.set_ylim(30, 0); a.set_xticks([]); a.set_yticks([])
for sp in a.spines.values():
    sp.set_color('#999999'); sp.set_linewidth(1)
a.bar([0]*30, [1]*30, [1]*30, bottom=range(30), align='edge', color=module_colors, lw=0)
for r, m in enumerate(modules):
    T(708, 1367+12.77*(r+.6), m, 9)
T(769, 1412, 'CD38', 10.3, family='Liberation Serif', color='#222222')
T(770, 1429, 'MT1X', 10.3, family='Liberation Serif', color='#222222')
ov.plot([737, 766], [1439, 1425], color='#222222', lw=.9)

def cbar(rect, lim, cmap, norm, ticks, labels, extra):
    a = axpx(*rect)
    edges = np.linspace(lim[0], lim[1], 21)
    mids = (edges[:-1]+edges[1:])/2
    a.pcolormesh(edges, [0, 1], mids[None, :], cmap=cmap, norm=norm)
    a.set_xlim(*lim); a.set_ylim(0, 1); a.set_yticks([])
    a.set_xticks(ticks); a.set_xticklabels(labels); a.set_xticks(extra, minor=True)
    a.tick_params(axis='x', which='both', length=4.5, width=1, color='#555555', labelsize=9, labelcolor='#222222', pad=1.5)
    for s in ['top','left','right']:
        a.spines[s].set_visible(False)
    a.spines['bottom'].set_color('#777777'); a.spines['bottom'].set_linewidth(1)
T(789, 1652, 'correlation coefficient', 9)
cbar((789,1659,893,1680), (-.3,.3), corr_cmap, cn, [-.2,0,.2], ['−0.2','0.0','0.2'], [-.3,.3])
T(789, 1710, 'pValue', 9)
cbar((789,1716,893,1736), (0,1), p_cmap, pn, [0,.5,1], ['0.0','0.5','1.0'], [])

# ---------- K scatter ----------
ax = axpx(986, 1393, 1508, 1763)
ax.set_xlim(-.138, 1.003); ax.set_ylim(-.144, .591)
ax.set_xticks([0,.2,.4,.6,.8,1.0]); ax.set_yticks([0,.2,.4])
ax.set_xticks([-.138], minor=True); ax.set_yticks([-.144,.591], minor=True)
ax.xaxis.set_major_formatter(FuncFormatter(lambda v,p: f'{v:.1f}'))
ax.yaxis.set_major_formatter(FuncFormatter(lambda v,p: f'{v:.1f}'))
ax.tick_params(axis='both', which='both', length=4, width=1, labelsize=6.4, color='#222222', labelcolor='#333333', pad=3)
ax.grid(True, which='major', axis='y', color='#d0d0d0', lw=1.2)
ax.grid(True, which='major', axis='x', color='#c8c8c8', lw=.9)
ax.set_axisbelow(True)
for sp in ax.spines.values():
    sp.set_color('#111111'); sp.set_linewidth(1.3)
ax.scatter(mm, gs, s=21, color='#3350A8', alpha=.62, linewidths=0, zorder=3)
ov.add_patch(Circle((996, 1403), 6, color='#2A55A5', lw=0))
T(1002, 1405, ': p=8.3e-11 r=0.47', 8, color='#333333')
T(1279, 1791, 'Module Membership in cyan module', 12.4, ha='center')
T(953, 1555, 'Gene significance for T1--2', 12.4, ha='center', rotation=90)

a = axpx(986, 1354, 1508, 1391)
a.set_xlim(-.138, 1.003); a.set_ylim(0, 13); a.axis('off')
a.bar(mm_bins, mm_counts, .02, align='edge', color='#FCC07F', lw=0)
a = axpx(1511.6, 1393, 1549, 1763)
a.set_xlim(0, 20); a.set_ylim(-.144, .591); a.axis('off')
a.barh(gs_bins, gs_counts, .02, align='edge', color='#F58A70', lw=0)
ov.plot([1510.5, 1510.5], [1393, 1763], color='#FBD9D0', lw=.8)

fig.savefig('out.png', dpi=100)
